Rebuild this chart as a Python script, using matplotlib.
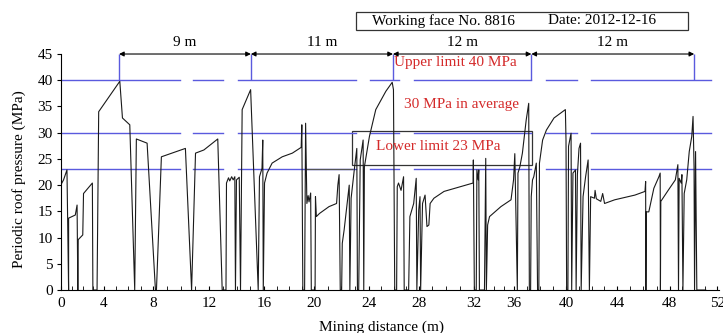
import matplotlib
matplotlib.use("Agg")
import matplotlib.pyplot as plt
import numpy as np
from matplotlib.patches import Rectangle

plt.rcParams["font.family"] = ["Liberation Serif", "DejaVu Serif"]

# mining distance (m) and periodic roof pressure (MPa)
dist = [0.0, 0.02, 0.2, 0.47, 0.6, 0.6, 1.13, 1.27, 1.33, 1.36, 1.72, 1.78, 2.48, 2.52,
        2.85, 2.98, 4.65, 4.86, 5.44, 5.83, 5.96, 6.81, 7.47, 7.55, 7.94, 9.84, 10.33,
        10.64, 11.3, 12.4, 12.75, 13.05, 13.09, 13.25, 13.35, 13.5, 13.62, 13.75, 13.8,
        13.88, 14.1, 14.2, 14.33, 15.0, 15.6, 15.7, 15.9, 15.96, 16.0, 16.1, 16.3, 16.7,
        17.5, 18.3, 19.0, 19.05, 19.13, 19.27, 19.35, 19.45, 19.55, 19.62, 19.75, 19.8,
        20.1, 20.13, 20.2, 20.45, 21.2, 21.8, 21.9, 22.0, 22.09, 22.2, 22.25, 22.4, 22.7,
        22.8, 22.85, 22.95, 23.2, 23.4, 23.45, 23.55, 23.67, 23.9, 23.95, 24.0, 24.4,
        24.9, 25.7, 26.2, 26.3, 26.4, 26.55, 26.6, 26.7, 26.9, 27.1, 27.15, 27.5, 27.6,
        27.9, 28.1, 28.15, 28.3, 28.4, 28.45, 28.6, 28.8, 28.95, 29.1, 29.2, 29.5, 30.3,
        31.6, 32.6, 32.62, 32.7, 32.85, 32.9, 33.0, 33.05, 33.1, 33.5, 33.6, 33.65, 33.75,
        33.9, 34.8, 35.6, 35.8, 35.9, 36.1, 36.15, 36.3, 36.5, 36.8, 37.0, 37.05, 37.15,
        37.2, 37.3, 37.4, 37.6, 37.7, 37.8, 37.85, 38.1, 38.4, 39.0, 39.9, 39.95, 40.0,
        40.1, 40.15, 40.35, 40.4, 40.5, 40.7, 40.75, 40.85, 40.98, 41.1, 41.15, 41.3,
        41.5, 41.7, 41.8, 41.9, 42.2, 42.25, 42.35, 42.7, 42.85, 43.0, 43.8, 45.4, 46.2,
        46.25, 46.27, 46.3, 46.5, 46.9, 47.3, 47.4, 47.42, 47.45, 48.06, 48.6, 48.8,
        48.85, 48.9, 49.06, 49.12, 49.2, 49.3, 49.5, 49.7, 49.9, 50.0, 50.08, 50.12,
        50.2, 50.3, 51.0]
pressure = [13.8, 20.2, 21.0, 22.9, 0, 13.7, 14.3, 16.2, 0, 9.6, 10.5, 18.4, 20.4, 0,
            0, 34.0, 39.8, 32.8, 31.5, 0, 28.8, 28.0, 0, 0, 25.4, 27.0, 0,
            26.1, 26.7, 28.8, 0, 0, 20.4, 21.4, 20.8, 21.6, 21.0, 21.6, 0,
            21.0, 21.5, 0, 34.4, 38.2, 0, 21.6, 23.2, 28.6, 0, 20.4, 22.3, 24.2,
            25.4, 26.1, 27.2, 31.5, 0, 0, 31.8, 16.5, 18.0, 16.8, 18.5, 0,
            0, 17.8, 14.0, 14.6, 15.9, 16.5, 20.0, 22.0, 0, 0, 8.9, 11.5, 17.8,
            20.0, 0, 17.5, 22.9, 27.0, 0, 0, 24.8, 28.6, 0, 23.5, 29.3,
            34.4, 37.9, 39.6, 38.2, 0, 0, 19.7, 20.4, 19.0, 21.6, 0, 0, 14.0,
            16.5, 21.3, 0, 15.3, 17.8, 0, 16.5, 18.1, 12.1, 12.4, 16.5, 17.5, 18.8,
            19.7, 20.4, 24.8, 0, 0, 22.9, 21.0, 22.9, 0, 0, 25.1, 0, 12.4,
            14.0, 15.9, 17.2, 21.0, 26.0, 0, 22.3, 23.5, 26.1, 32.4, 35.6, 0, 0,
            17.8, 21.0, 21.6, 24.2, 0, 0, 24.2, 28.6, 30.5, 32.8, 34.4, 28.6, 0,
            0, 27.4, 29.9, 0, 22.3, 22.9, 0, 22.0, 27.0, 28.0, 0, 17.8,
            21.6, 24.8, 0, 17.8, 17.5, 19.0, 17.4, 16.9, 18.4, 16.5, 17.2, 18.1, 18.8,
            20.7, 0, 14.9, 14.9, 19.4, 21.6, 22.3, 0, 16.9, 19.1, 21.0, 23.9,
            0, 21.3, 20.4, 22.0, 0, 18.4, 21.0, 26.4, 29.3, 33.1, 23.5, 0,
            26.4, 0, 0]

# x tick labels and where they sit on the scanned axis (not evenly spaced)
xtick_labels = [0, 4, 8, 12, 16, 20, 24, 28, 32, 36, 40, 44, 48, 52]
xtick_pos = [0, 3.40, 7.26, 11.74, 16.07, 20.03, 24.33, 28.29, 32.64, 35.81,
             39.98, 43.99, 48.16, 51.92]

# upper limit, average, lower limit (MPa) and the pieces the broken lines are drawn in
limits = [40, 30, 23]
limit_spans = [(0, 9.42), (10.45, 12.83), (14.0, 23.36), (24.45, 26.76),
               (27.95, 37.21), (38.4, 40.85), (41.96, 51.39)]

# periodic weighting positions and the step between them
weight_x = [4.59, 15.02, 26.26, 37.21, 50.09]
step_labels = ["9 m", "11 m", "12 m", "12 m"]

blue = "#5a5ade"
red = "#d42a2a"

fig = plt.figure(figsize=(7.23, 3.33), dpi=100)
ax = fig.add_axes([0.0844, 0.1291, 0.910, 0.7087])

for y in limits:
    for a, b in limit_spans:
        ax.plot([a, b], [y, y], color=blue, lw=1.0)

ax.plot([19.45, 23.04], [23, 23], color="#555555", lw=0.9)
ax.plot(dist, pressure, color="#1a1a1a", lw=0.8)

ax.vlines(weight_x, 40, 45, color=blue, lw=1.0)
for i, lab in enumerate(step_labels):
    ax.annotate("", xy=(weight_x[i + 1], 45), xytext=(weight_x[i], 45),
                arrowprops=dict(arrowstyle="<|-|>", color="k", lw=0.8,
                                mutation_scale=7, shrinkA=0, shrinkB=0),
                annotation_clip=False)
    ax.text((weight_x[i] + weight_x[i + 1]) / 2, 47.1, lab, ha="center", va="center",
            fontsize=11, clip_on=False)

ax.add_patch(Rectangle((23.04, 23.85), 37.29 - 23.04, 30.34 - 23.85, fill=False,
                       ec="#333333", lw=0.9))
ax.text(26.37, 43.3, "Upper limit 40 MPa", color=red, fontsize=11, va="center")
ax.text(27.16, 35.3, "30 MPa in average", color=red, fontsize=11, va="center")
ax.text(24.94, 27.3, "Lower limit 23 MPa", color=red, fontsize=11, va="center")

fig.add_artist(Rectangle((0.4924, 0.9099), 0.4592, 0.054, transform=fig.transFigure,
                         fill=False, ec="#333333", lw=0.9))
fig.text(0.5145, 0.937, "Working face No. 8816", fontsize=11, va="center")
fig.text(0.758, 0.937, "Date: 2012-12-16", fontsize=11, va="center")

ax.set_xlim(0, 52.05)
ax.set_ylim(0, 45)
ax.set_xticks(xtick_pos, [str(v) for v in xtick_labels])
minor = np.interp(np.arange(0, 53), xtick_labels, xtick_pos)
ax.set_xticks(minor, minor=True)
ax.set_yticks(np.arange(0, 46, 5))
ax.tick_params(axis="x", which="both", direction="in", length=3, labelsize=11, pad=5)
ax.tick_params(axis="y", direction="out", length=3, labelsize=11, pad=3)
ax.spines["top"].set_visible(False)
ax.spines["right"].set_visible(False)

ax.set_xlabel("Mining distance (m)", fontsize=11)
ax.set_ylabel("Periodic roof pressure (MPa)", fontsize=11)
ax.xaxis.set_label_coords(0.487, -0.128)
ax.yaxis.set_label_coords(-0.053, 0.47)

fig.savefig("out.png", dpi=100)
